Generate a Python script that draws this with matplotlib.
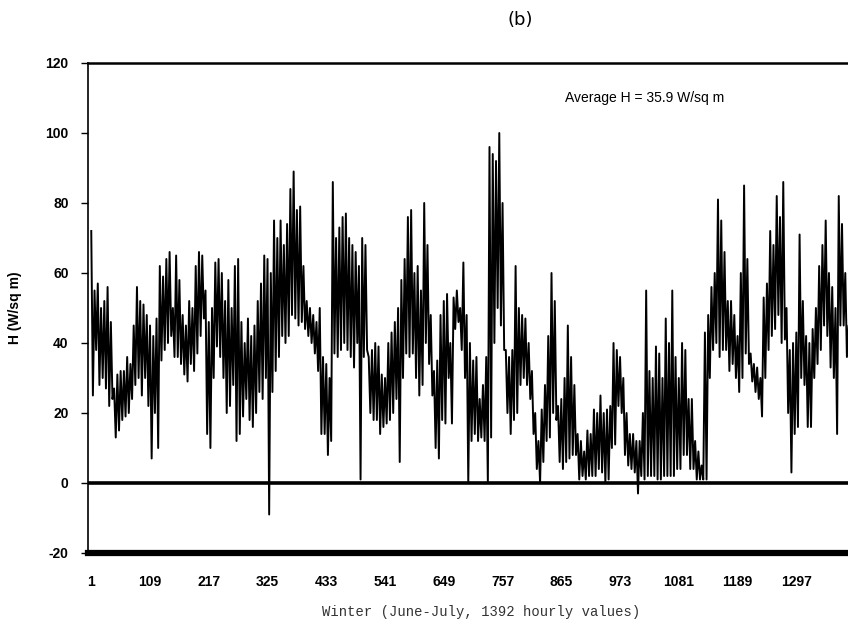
# Hourly H series, winter (June-July)

import matplotlib.pyplot as plt
import numpy as np

plt.rcParams['axes.unicode_minus'] = False

# upper and lower swings of H, one pair per 6 hours
peaks = [72, 55, 57, 50, 52, 56, 46, 27, 31, 32,
         32, 36, 34, 45, 56, 52, 51, 48, 45, 42,
         47, 62, 59, 64, 66, 50, 65, 58, 48, 45,
         52, 50, 62, 66, 65, 55, 46, 50, 63, 64,
         60, 52, 58, 50, 62, 64, 46, 40, 47, 42,
         45, 52, 57, 65, 64, 60, 75, 70, 75, 68,
         74, 84, 89, 78, 79, 62, 52, 50, 48, 46,
         50, 36, 34, 30, 86, 70, 73, 76, 77, 70,
         68, 66, 62, 70, 68, 36, 38, 40, 39, 31,
         30, 40, 43, 46, 50, 58, 64, 76, 78, 60,
         62, 55, 80, 68, 48, 32, 35, 48, 52, 54,
         40, 53, 55, 50, 63, 48, 40, 35, 36, 24,
         28, 36, 96, 94, 92, 100, 80, 38, 36, 38,
         62, 50, 48, 47, 40, 32, 20, 12, 21, 28,
         42, 60, 52, 22, 24, 30, 45, 36, 28, 14,
         12, 9, 15, 14, 21, 20, 25, 20, 21, 22,
         40, 38, 36, 30, 20, 14, 14, 12, 12, 20,
         55, 32, 30, 39, 37, 30, 47, 40, 55, 36,
         30, 40, 38, 24, 24, 12, 9, 5, 43, 48,
         56, 60, 81, 75, 66, 52, 52, 48, 42, 60,
         85, 64, 37, 34, 33, 30, 53, 57, 72, 68,
         82, 76, 86, 50, 38, 40, 43, 71, 52, 42,
         40, 44, 50, 62, 68, 75, 60, 56, 50, 82,
         74, 60, 45]
troughs = [25, 38, 28, 30, 27, 22, 24, 13, 15, 18,
           19, 20, 24, 28, 30, 25, 30, 22, 7, 20,
           10, 35, 38, 40, 42, 36, 36, 34, 31, 29,
           34, 32, 37, 42, 47, 14, 10, 30, 39, 36,
           30, 20, 22, 28, 12, 14, 19, 24, 18, 16,
           20, 26, 24, 30, -9, 26, 32, 36, 42, 40,
           42, 48, 47, 45, 46, 44, 42, 40, 37, 32,
           14, 14, 8, 12, 37, 36, 38, 40, 38, 36,
           33, 40, 1, 36, 38, 20, 18, 18, 14, 16,
           17, 18, 20, 24, 6, 30, 37, 36, 37, 30,
           25, 28, 40, 34, 25, 10, 7, 18, 17, 30,
           17, 44, 46, 38, 30, 0, 12, 14, 12, 13,
           12, 0, 13, 40, 50, 45, 38, 20, 14, 18,
           20, 28, 30, 28, 24, 14, 4, 0, 6, 12,
           13, 20, 18, 6, 4, 6, 7, 8, 8, 1,
           2, 1, 2, 2, 2, 4, 3, 0, 1, 10,
           11, 22, 20, 8, 5, 4, 3, -3, 2, 1,
           2, 2, 2, 1, 1, 2, 2, 2, 2, 4,
           4, 8, 8, 4, 4, 1, 1, 1, 1, 30,
           38, 40, 36, 38, 38, 32, 34, 30, 26, 30,
           37, 34, 29, 26, 24, 19, 30, 38, 42, 44,
           48, 40, 41, 20, 3, 14, 16, 30, 28, 16,
           16, 30, 34, 38, 45, 42, 33, 30, 14, 45,
           45, 36, 11]

tick_hours = [1, 109, 217, 325, 433, 541, 649, 757, 865, 973, 1081, 1189, 1297]
avg_h = 35.9

H = np.column_stack([peaks, troughs]).ravel()
hours = 1 + 3 * np.arange(len(H))

fig = plt.figure(figsize=(8.48, 6.3), dpi=100)
ax = fig.add_axes([88 / 848, 77 / 630, 760 / 848, 490 / 630])

ax.plot(hours, H, color='black', lw=1.4)
ax.axhline(0, color='black', lw=2.6)

ax.set_xlim(-5, 1392)
ax.set_ylim(-20, 120)
ax.set_yticks(range(-20, 121, 20))
ax.set_xticks(tick_hours)
ax.set_xticklabels([str(t) for t in tick_hours])

ax.tick_params(axis='y', direction='out', length=5, width=1, pad=9)
ax.tick_params(axis='x', length=0, pad=16)
for lab in ax.get_xticklabels() + ax.get_yticklabels():
    lab.set_family('Liberation Sans')
    lab.set_fontweight('bold')
    lab.set_fontsize(10)

ax.spines['bottom'].set_linewidth(4.5)
ax.spines['top'].set_linewidth(1.8)
ax.spines['left'].set_linewidth(1.2)
ax.spines['right'].set_visible(False)

ax.set_ylabel('H (W/sq m)', family='Liberation Sans', fontweight='bold', fontsize=10)
ax.yaxis.set_label_coords(-0.087, 0.5)
ax.set_xlabel('Winter (June-July, 1392 hourly values)', family='Liberation Mono',
              fontsize=10, color='#333333')
ax.xaxis.set_label_coords((481 - 88) / 760, -0.107)

ax.text(0.628, 0.929, 'Average H = %.1f W/sq m' % avg_h, transform=ax.transAxes,
        family='Liberation Sans', fontsize=10, va='center', ha='left')

fig.text(0.613, 0.968, '(b)', family='DejaVu Sans', fontsize=13,
         ha='center', va='center', color='black')

plt.savefig('out.png', dpi=100)
